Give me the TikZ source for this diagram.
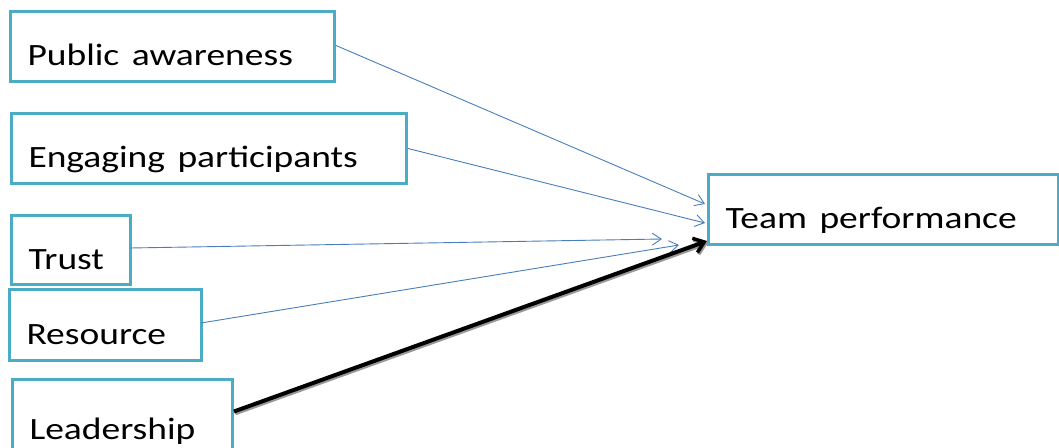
\documentclass[tikz,border=0pt]{standalone}
\usepackage{fontspec}
\usepackage{graphicx}
\setmainfont{Carlito}
\usetikzlibrary{arrows.meta}
\definecolor{boxteal}{HTML}{4BACC6}
\definecolor{linkblue}{HTML}{4A7EBB}
% labels are set slightly wide
\newcommand{\widelabel}[1]{\scalebox{1.21}[1]{#1}}
\begin{document}
\begin{tikzpicture}[x=1pt,y=-1pt,
  factor/.style={draw=boxteal,line width=3pt,fill=white,anchor=north west,
    inner xsep=17pt,inner ysep=0pt,text height=54pt,text depth=16pt,
    align=left,font=\fontsize{31}{36}\selectfont},
  link/.style={draw=linkblue,line width=0.9pt,-{Straight Barb[length=9pt,width=12pt,line width=0.9pt]}},
  strong/.style={draw=black,line width=4pt,-{Straight Barb[length=10pt,width=15pt,line width=3.5pt]}},
  strongshadow/.style={draw=black!40,line width=4pt,-{Straight Barb[length=10pt,width=15pt,line width=3.5pt]}}]
\useasboundingbox (0,0) rectangle (1059,447);
\clip (0,0) rectangle (1059,447);
\fill[white] (0,0) rectangle (1059,447);

% factor boxes
\node[factor,text width=290pt] (pa) at (9,10) {\widelabel{Public awareness}};
\node[factor,text width=361pt] (ep) at (10,112) {\widelabel{Engaging participants}};
\node[factor,text width=85pt,text height=54pt,text depth=15pt] (tr) at (10,214) {\widelabel{Trust}};
\node[factor,text width=158pt,text height=55pt] (rs) at (8,288) {\widelabel{Resource}};
\node[factor,text width=186pt,text height=60pt,text depth=20pt] (ld) at (11,378) {\widelabel{Leadership}};
\node[factor,text width=316pt] (tp) at (707,173) {\widelabel{Team performance}};

% arrow tips in front of the outcome box
\coordinate (paend) at (705,204);
\coordinate (epend) at (705,223);
\coordinate (trend) at (662,239);
\coordinate (rsend) at (679,245);
\coordinate (ldend) at (707,241);

% connectors
\draw[link] (pa.east) ++(0,-1) -- (paend);
\draw[link] (ep.east) -- (epend);
\draw[link] (tr.east) ++(-2,-2) -- (trend);
\draw[link] (rs.east) ++(-2,-2) -- (rsend);
\draw[strongshadow,transform canvas={shift={(1.2pt,-1.8pt)}}] (ld.east) ++(0,-8) -- (ldend);
\draw[strong] (ld.east) ++(0,-8) -- (ldend);
\end{tikzpicture}
\end{document}
